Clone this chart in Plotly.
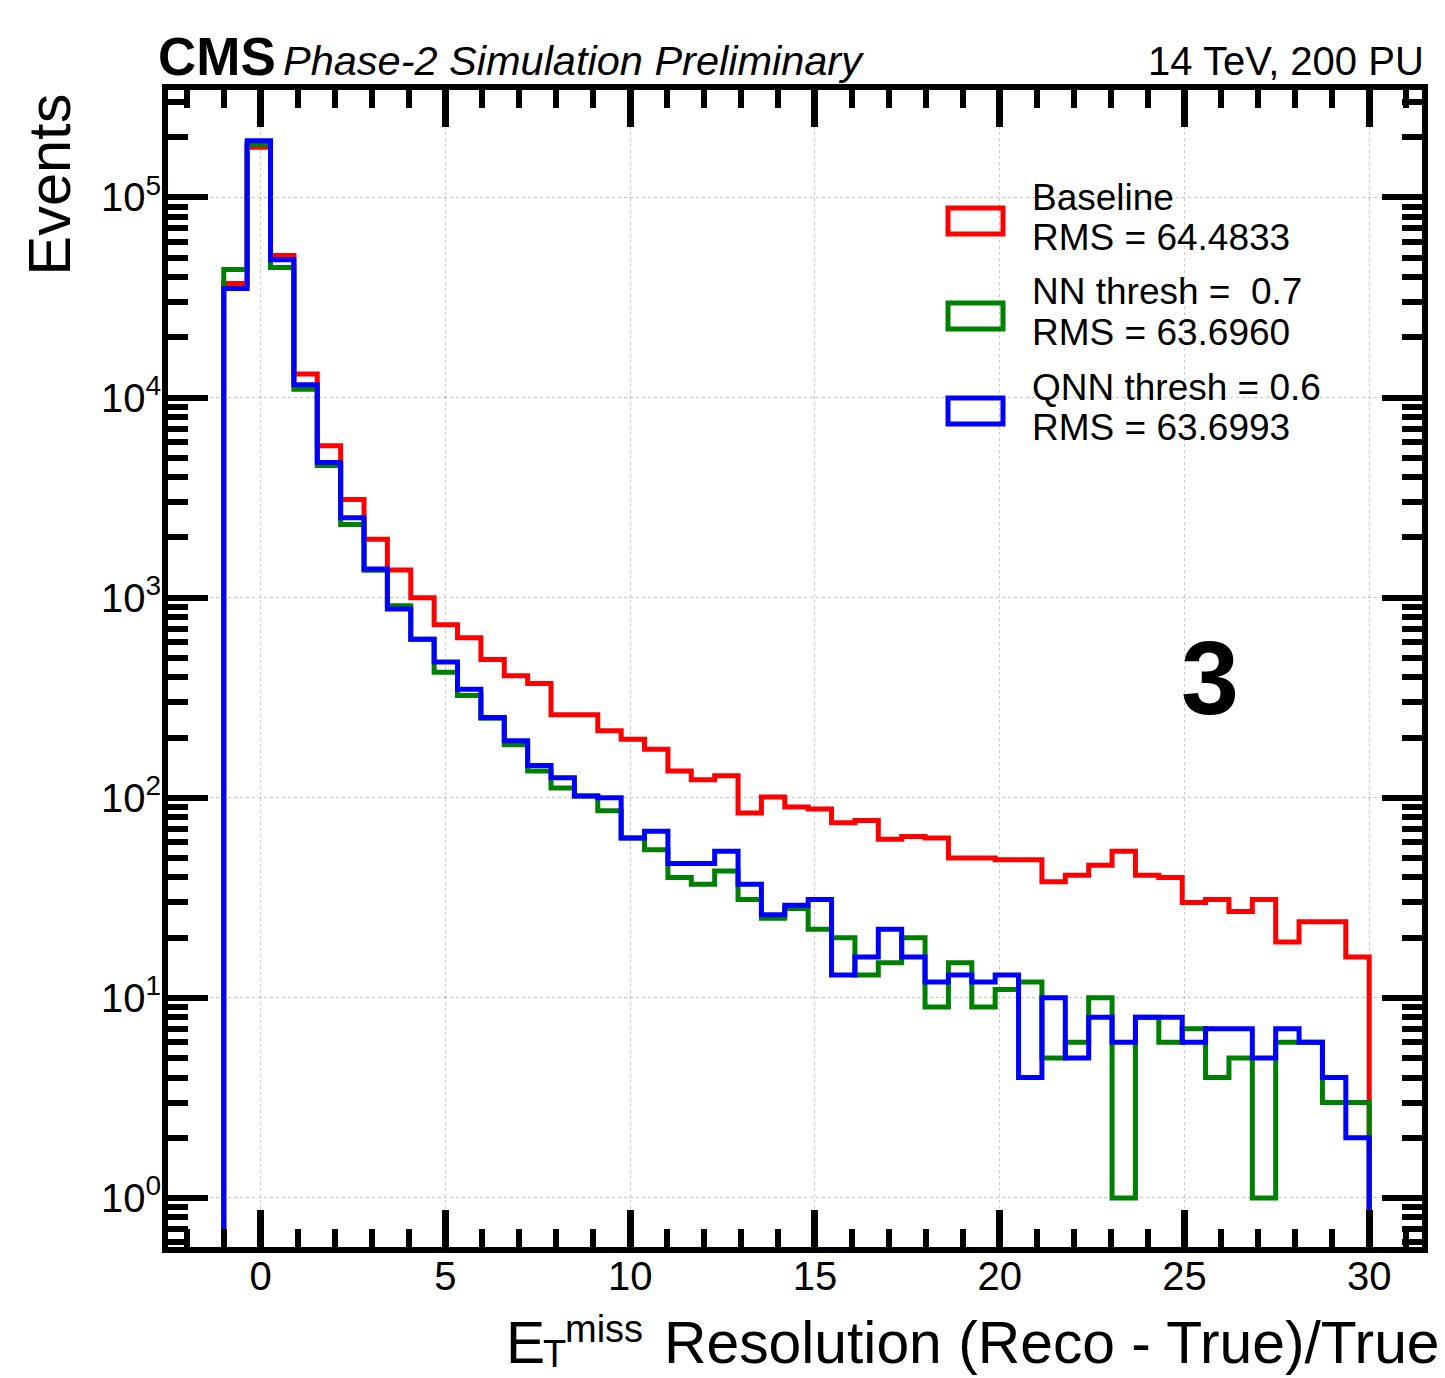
import numpy as np
import plotly.graph_objects as go

# ---------------- data ----------------
bin_lo, bin_hi, n_bins = -1.0, 30.0, 49

baseline = [37200, 178000, 51300, 13100, 5750, 3090, 1960, 1375, 1000, 733,
            631, 491, 407, 372, 260, 260, 216, 196, 175, 136,
            123, 129, 84, 101, 90, 88, 75, 77, 62, 64,
            63, 50, 50, 49, 49, 38, 41, 46, 54, 41,
            40, 30, 31, 27, 31, 19, 24, 24, 16]

nn_thresh = [43700, 184000, 44700, 11000, 4570, 2320, 1370, 912, 620, 424,
             324, 250, 184, 136, 112, 102, 86, 63, 55, 40,
             37, 43, 31, 25, 28, 22, 20, 13, 15, 20,
             9, 15, 9, 11, 12, 5, 6, 10, 1, 8,
             6, 7, 4, 5, 1, 6, 6, 3, 3]

qnn_thresh = [35100, 192000, 48800, 11600, 4740, 2510, 1390, 878, 620, 477,
              349, 252, 193, 145, 126, 102, 100, 63, 68, 47,
              47, 54, 37, 26, 29, 31, 13, 16, 22, 16,
              12, 13, 12, 13, 4, 10, 5, 8, 6, 8,
              8, 6, 7, 7, 5, 7, 6, 4, 2]

series_names = ["Baseline", "NN thresh =\u00a0\u00a00.7", "QNN thresh = 0.6"]
series_rms = ["RMS = 64.4833", "RMS = 63.6960", "RMS = 63.6993"]
series_colors = ["#ff0000", "#008000", "#0000ff"]

x_tick_vals = [0, 5, 10, 15, 20, 25, 30]
y_decades = [0, 1, 2, 3, 4, 5]

# ---------------- layout geometry (screen coords; page has an 8px body offset) ----------------
OFF = 8
W_FIG, H_FIG = 1437, 1370
P_LEFT, P_RIGHT, P_TOP, P_BOTTOM = 168, 1422, 90, 1247      # inner frame edges on screen
L = P_LEFT - OFF
T = P_TOP - OFF
R = W_FIG - (P_RIGHT - OFF)
B = H_FIG - (P_BOTTOM - OFF)
PW, PH = W_FIG - L - R, H_FIG - T - B

def sx(xs):
    return (xs - OFF - L) / PW

def sy(ys):
    return (T + PH - (ys - OFF)) / PH

FONT = "Liberation Sans, Arial, Helvetica, sans-serif"

edges = np.linspace(bin_lo, bin_hi, n_bins + 1)
floor = 0.05

def step_xy(vals):
    xs = [edges[0]] + list(edges[:-1]) + [edges[-1], edges[-1]]
    ys = [floor] + list(vals) + [vals[-1], floor]
    return xs, ys

fig = go.Figure()
for vals, col, name in zip([baseline, nn_thresh, qnn_thresh], series_colors, series_names):
    xs, ys = step_xy(vals)
    fig.add_trace(go.Scatter(x=xs, y=ys, mode="lines", line=dict(color=col, width=5, shape="hv"),
                             name=name, showlegend=False, hoverinfo="skip"))

minor_y = [k * 10 ** d for d in range(-1, 6) for k in range(2, 10)]

fig.update_xaxes(
    range=[-2.509, 31.429], showline=True, linewidth=6, linecolor="black", mirror="allticks",
    ticks="inside", ticklen=37, tickwidth=7, tickcolor="black",
    tickvals=x_tick_vals, ticktext=[str(v) for v in x_tick_vals],
    tickfont=dict(family=FONT, size=40, color="black"), ticklabelstandoff=-11,
    showgrid=True, gridcolor="#c8c8c8", griddash="dot", gridwidth=1,
    zeroline=False,
    minor=dict(dtick=1, ticks="inside", ticklen=18, tickwidth=6, tickcolor="black", showgrid=False),
)
fig.update_yaxes(
    type="log", range=[-0.245, 5.537], showline=True, linewidth=6, linecolor="black", mirror="allticks",
    ticks="inside", ticklen=40, tickwidth=6, tickcolor="black",
    tickvals=[10 ** d for d in y_decades], ticktext=["10<sup>%d</sup>" % d for d in y_decades],
    tickfont=dict(family=FONT, size=40, color="black"), ticklabelstandoff=-7,
    showgrid=True, gridcolor="#c8c8c8", griddash="dot", gridwidth=1,
    zeroline=False,
    minor=dict(tickvals=minor_y, ticks="inside", ticklen=20, tickwidth=6, tickcolor="black", showgrid=False),
)

ann = []
def add_text(x, y, text, size, xanchor="left", yanchor="bottom", angle=0):
    ann.append(dict(x=sx(x), y=sy(y), xref="paper", yref="paper", xanchor=xanchor, yanchor=yanchor,
                    text=text, textangle=angle, showarrow=False,
                    font=dict(family=FONT, size=size, color="black")))

# header
add_text(156, 88, "<b>CMS</b>", 53)
add_text(281, 86, "<i>Phase-2 Simulation Preliminary</i>", 41.5)
add_text(1426, 85, "14 TeV, 200 PU", 40, xanchor="right")
# x axis title (pieces), kept inside the figure's bottom edge
add_text(504, 1377, "E", 58.8)
add_text(541, 1377, "T", 38)
add_text(563, 1352, "miss", 38)
add_text(662, 1377, "Resolution (Reco - True)/True", 58.8)
# y axis title
add_text(13, 92, "Events", 59.5, yanchor="top", angle=-90)
# big label
add_text(1210, 678, "<b>3</b>", 104, xanchor="center", yanchor="middle")

# legend
shapes = []
box_centers = [221, 316, 411]
text_rows = [(197, 237), (291, 332), (387, 427)]
for yc, (y1, y2), col, nm, rms in zip(box_centers, text_rows, series_colors, series_names, series_rms):
    shapes.append(dict(type="rect", xref="paper", yref="paper", x0=sx(948), x1=sx(1003),
                       y0=sy(yc + 13), y1=sy(yc - 13), line=dict(color=col, width=5),
                       fillcolor="rgba(0,0,0,0)"))
    add_text(1030, y1, nm, 37, yanchor="middle")
    add_text(1030, y2, rms, 37, yanchor="middle")

fig.update_layout(
    width=W_FIG, height=H_FIG, margin=dict(l=L, r=R, t=T, b=B, pad=0),
    paper_bgcolor="white", plot_bgcolor="white", showlegend=False,
    annotations=ann, shapes=shapes,
)

fig.write_html("out.html")
